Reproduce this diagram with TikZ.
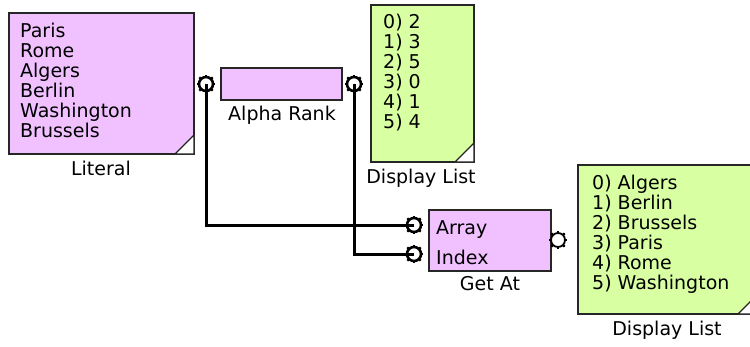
\documentclass[tikz,border=0pt]{standalone}
\usepackage{fontspec}
\setmainfont{DejaVu Sans}
\definecolor{pinkfill}{HTML}{F1C1FF}
\definecolor{greenfill}{HTML}{D9FFA3}
\definecolor{edge}{HTML}{262626}
\tikzset{
  blockbox/.style={draw=edge, line width=1.8bp},
  pinkbox/.style={blockbox, fill=pinkfill},
  greenbox/.style={blockbox, fill=greenfill},
  fold/.style={draw=edge, line width=1.3bp, fill=white},
  txt/.style={inner sep=0pt, font=\fontsize{19bp}{20bp}\selectfont, text=black},
  lbl/.style={txt, anchor=base},
  portc/.style={circle, draw=black, line width=2.6bp, minimum size=14bp, inner sep=0pt},
  portthin/.style={circle, draw=black, line width=1.8bp, minimum size=14bp, inner sep=0pt},
  tooth/.style={line width=2.2bp, draw=black},
  wire/.style={line width=3bp, draw=black}
}
\begin{document}
\begin{tikzpicture}[x=1bp, y=-1bp]
\clip (0,0) rectangle (750,346);
\fill[white] (0,0) rectangle (750,346);

% boxes
\draw[pinkbox] (9,13) rectangle (194,154);
\draw[fold] (175,154) -- (194,154) -- (194,135) -- cycle;
\draw[pinkbox] (221,68) rectangle (342,100);
\draw[greenbox] (371,5) rectangle (474,162);
\draw[fold] (455,162) -- (474,162) -- (474,143) -- cycle;
\draw[pinkbox] (429,210) rectangle (551,271);
\draw[greenbox] (578,165) rectangle (757,314);
\draw[fold] (738,314) -- (757,314) -- (757,295) -- cycle;

% texts
\foreach \t [count=\i from 0] in {Paris,Rome,Algers,Berlin,Washington,Brussels}
  \node[txt, anchor=base west] (lit-\i) at (20,{37+20*\i}) {\t};
\foreach \t [count=\i from 0] in {2,3,5,0,1,4}
  \node[txt, anchor=base west] (dla-\i) at (383,{28+20*\i}) {\i) \t};
\foreach \t [count=\i from 0] in {Algers,Berlin,Brussels,Paris,Rome,Washington}
  \node[txt, anchor=base west] (dlb-\i) at (592,{189+20*\i}) {\i) \t};
\node[txt, anchor=base west] (arr) at (436,234) {Array};
\node[txt, anchor=base west] (idx) at (436,264) {Index};

% labels
\node[lbl] (litlbl) at (101,175) {Literal};
\node[lbl] (alphalbl) at (282,120.5) {Alpha Rank};
\node[lbl] (dlalbl) at (421,183) {Display List};
\node[lbl] (getlbl) at (490,290.5) {Get At};
\node[lbl] (dlblbl) at (667,335) {Display List};

% port centres
\coordinate (pLc) at (206,84);
\coordinate (pAc) at (354,84);
\coordinate (pArrc) at (414,225);
\coordinate (pIdxc) at (414,254);
\coordinate (pOutc) at (558,240);

% wires
\draw[wire] (pLc) |- (pArrc);
\draw[wire] (pAc) |- (pIdxc);

% ports
\node[portc] (pL) at (pLc) {};
\node[portc] (pA) at (pAc) {};
\node[portc] (pArr) at (pArrc) {};
\node[portc] (pIdx) at (pIdxc) {};
\node[portthin] (pOut) at (pOutc) {};
\foreach \p in {pL,pA,pArr,pIdx,pOut}
  \foreach \a in {0,45,...,315}
    \draw[tooth] (\p.center) ++(\a:7) -- ++(\a:2.4);
\end{tikzpicture}
\end{document}
